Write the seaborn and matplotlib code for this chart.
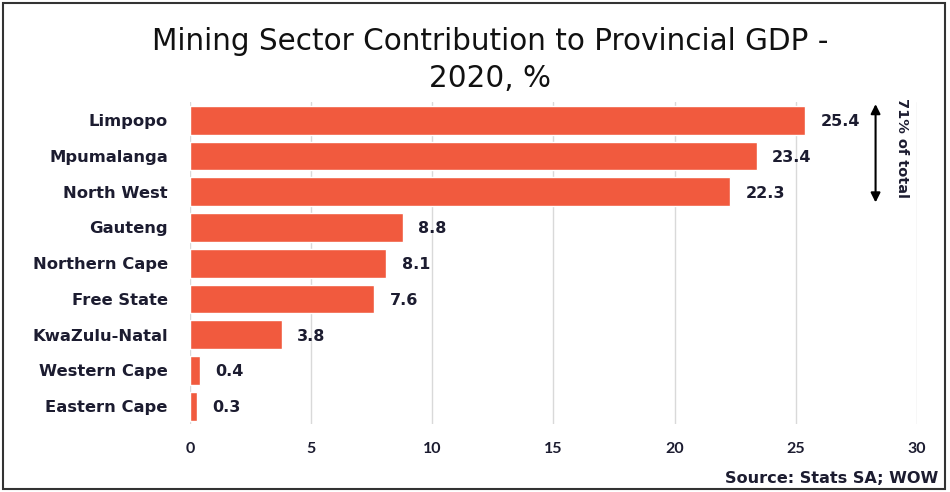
import matplotlib
matplotlib.use("Agg")
import matplotlib.pyplot as plt
import seaborn as sns
import pandas as pd
from matplotlib.patches import Rectangle

provinces = ["Limpopo", "Mpumalanga", "North West", "Gauteng", "Northern Cape",
             "Free State", "KwaZulu-Natal", "Western Cape", "Eastern Cape"]
values = [25.4, 23.4, 22.3, 8.8, 8.1, 7.6, 3.8, 0.4, 0.3]
x_ticks = [0, 5, 10, 15, 20, 25, 30]

sns.set_theme(style="white")
plt.rcParams['font.family'] = ['Lato', 'DejaVu Sans']

df = pd.DataFrame({"province": provinces, "value": values})

fig = plt.figure(figsize=(9.5, 4.92), dpi=100)
ax = fig.add_axes([0.2, 0.138, 0.765, 0.654])
renderer = fig.canvas.get_renderer()


def fit_width(txt, target_px):
    """Scale a text's font size so that its rendered width matches target_px."""
    for _ in range(3):
        w = txt.get_window_extent(renderer=renderer)
        wpx = w.height if txt.get_rotation() % 180 == 90 else w.width
        txt.set_fontsize(txt.get_fontsize() * target_px / wpx)


bar_color = "#F15A3E"
text_color = "#1c1c30"
wide = ["DejaVu Sans"]

sns.barplot(data=df, x="value", y="province", color=bar_color, width=0.8,
            saturation=1, ax=ax, order=provinces)

ax.set_xlim(0, 30)
ax.set_xticks(x_ticks)
ax.set_xticklabels([str(t) for t in x_ticks])
ax.grid(axis="x", color="#d9d9d9", linewidth=1)
ax.set_axisbelow(True)
for s in ax.spines.values():
    s.set_visible(False)
ax.set_xlabel("")
ax.set_ylabel("")
ax.tick_params(axis="both", length=0)
ax.tick_params(axis="x", pad=13, labelsize=11.5, labelcolor=text_color)
ax.tick_params(axis="y", pad=16, labelcolor=text_color)
for lbl in ax.get_xticklabels():
    lbl.set_fontweight("bold")
ylabels = ax.get_yticklabels()
for lbl in ylabels:
    lbl.set_fontweight("bold")
    lbl.set_family(wide)
    lbl.set_fontsize(11)
# size category labels so "Northern Cape" matches the reference width
ref = ylabels[provinces.index("Northern Cape")]
fit_width(ref, 135)
for lbl in ylabels:
    lbl.set_fontsize(ref.get_fontsize())

for i, v in enumerate(values):
    ax.annotate(f"{v}", xy=(v, i), xytext=(11, -1), textcoords="offset points",
                va="center", ha="left", fontsize=11.5, fontweight="bold",
                color=text_color, family=wide)

# Title
title_font = ["DejaVu Sans"]
t1 = fig.text(0.516, 0.915, "Mining Sector Contribution to Provincial GDP -",
              ha="center", va="center", fontsize=18, color="#111111",
              family=title_font)
fit_width(t1, 680)
fig.text(0.516, 0.841, "2020, %", ha="center", va="center",
         fontsize=t1.get_fontsize(), color="#111111", family=title_font)

# Arrow annotation
ax.annotate("", xy=(28.3, -0.45), xytext=(28.3, 2.3),
            arrowprops=dict(arrowstyle="<|-|>", color="black", lw=1.5,
                            mutation_scale=14, shrinkA=0, shrinkB=0),
            annotation_clip=False)
t71 = ax.text(29.4, 0.78, "71% of total", rotation=-90, ha="center", va="center",
              fontsize=11, fontweight="bold", color=text_color, family=wide)
fit_width(t71, 100)

# Source
src = fig.text(0.988, 0.027, "Source: Stats SA; WOW", ha="right", va="center",
               fontsize=11, fontweight="bold", color=text_color, family=wide)
fit_width(src, 214)

# Outer frame
fig.patches.append(Rectangle((0.003, 0.006), 0.992, 0.988, transform=fig.transFigure,
                             fill=False, edgecolor="#333333", linewidth=1.5))

fig.savefig("out.png", dpi=100)
